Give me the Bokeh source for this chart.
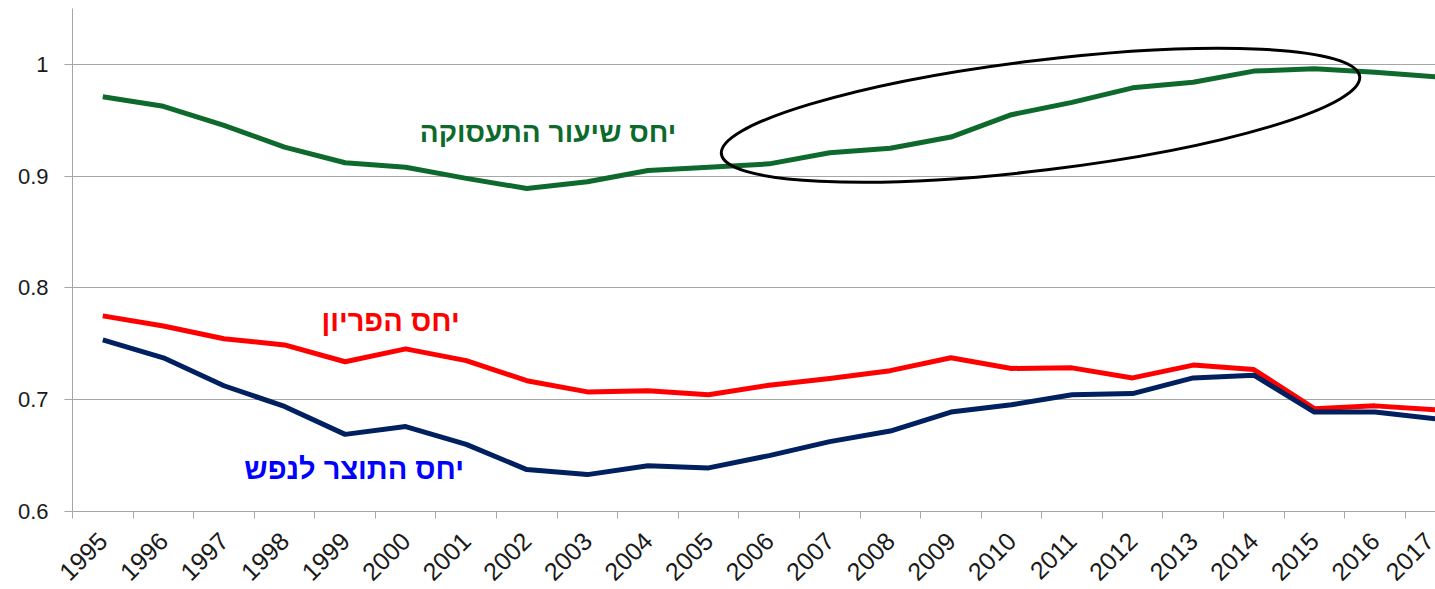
import math
from bokeh.plotting import figure
from bokeh.models import FixedTicker, ColumnDataSource
from bokeh.core.properties import value
from bokeh.embed import file_html
from bokeh.resources import INLINE

years = list(range(1995, 2018))
employment_ratio = [0.971, 0.9625, 0.9455, 0.926, 0.912, 0.908, 0.898, 0.889, 0.895, 0.905,
                    0.908, 0.911, 0.921, 0.925, 0.935, 0.955, 0.966, 0.979, 0.984, 0.994,
                    0.996, 0.993, 0.989]
productivity_ratio = [0.775, 0.766, 0.7545, 0.749, 0.734, 0.7455, 0.735, 0.717, 0.707, 0.708,
                      0.7045, 0.713, 0.719, 0.726, 0.7375, 0.728, 0.7285, 0.7195, 0.731, 0.727,
                      0.692, 0.6945, 0.691]
gdp_ratio = [0.7535, 0.7375, 0.7125, 0.694, 0.669, 0.676, 0.660, 0.6375, 0.633, 0.641,
             0.639, 0.650, 0.6625, 0.672, 0.689, 0.6955, 0.7045, 0.7055, 0.7195, 0.722,
             0.689, 0.689, 0.683]
y_ticks = [0.6, 0.7, 0.8, 0.9, 1.0]

label_employment = "יחס שיעור התעסוקה"
label_productivity = "יחס הפריון"
label_gdp = "יחס התוצר לנפש"

GREEN = "#0E6A2C"
RED = "#FF0000"
NAVY = "#002060"
BLUE = "#0000FF"
FONT = "Liberation Sans"

p = figure(frame_width=1363, frame_height=503, output_backend="svg", toolbar_location=None,
           x_range=(1994.5, 2017.0), y_range=(0.6, 1.05),
           min_border_left=72, min_border_right=0, min_border_top=8, min_border_bottom=76)
p.outline_line_color = None
p.background_fill_color = "white"
p.border_fill_color = "white"

# grid
p.xgrid.grid_line_color = None
p.ygrid.grid_line_color = "#A6A6A6"
p.ygrid.grid_line_width = 1

# y axis
p.yaxis.ticker = FixedTicker(ticks=y_ticks)
p.yaxis.major_label_overrides = {1: "1"}
p.yaxis.axis_line_color = "#A6A6A6"
p.yaxis.major_tick_line_color = "#A6A6A6"
p.yaxis.major_tick_out = 8
p.yaxis.major_tick_in = 0
p.yaxis.minor_tick_line_color = None
p.yaxis.major_label_text_font = FONT
p.yaxis.major_label_text_font_size = "22px"
p.yaxis.major_label_text_color = "#1a1a1a"
p.yaxis.major_label_standoff = 16

# x axis
p.xaxis.ticker = FixedTicker(ticks=years, minor_ticks=[y - 0.5 for y in years])
p.xaxis.major_label_overrides = {y: str(y) for y in years}
p.xaxis.axis_line_color = "#A6A6A6"
p.xaxis.major_tick_line_color = None
p.xaxis.minor_tick_line_color = "#A6A6A6"
p.xaxis.minor_tick_out = 7
p.xaxis.minor_tick_in = 0
p.xaxis.major_label_orientation = math.pi / 4
p.xaxis.major_label_text_font = FONT
p.xaxis.major_label_text_font_size = "25px"
p.xaxis.major_label_text_color = "#1a1a1a"
p.xaxis.major_label_standoff = 18

src = ColumnDataSource(dict(x=years, emp=employment_ratio, prod=productivity_ratio, gdp=gdp_ratio))
p.line("x", "emp", source=src, line_color=GREEN, line_width=5, line_join="round")
p.line("x", "prod", source=src, line_color=RED, line_width=5, line_join="round")
p.line("x", "gdp", source=src, line_color=NAVY, line_width=5, line_join="round")

# ellipse highlight
p.ellipse(x=[2010.48], y=[0.9545], width=643, height=110, angle=0.121,
          width_units="screen", height_units="screen",
          fill_color=None, line_color="black", line_width=3)

# series labels
p.text(x=[2002.35], y=[0.939], text=[label_employment], text_color=GREEN,
       text_font=value(FONT), text_font_style="bold", text_font_size="28px",
       text_align="center", text_baseline="middle")
p.text(x=[1999.75], y=[0.7705], text=[label_productivity], text_color=RED,
       text_font=value(FONT), text_font_style="bold", text_font_size="29px",
       text_align="center", text_baseline="middle")
p.text(x=[1999.15], y=[0.638], text=[label_gdp], text_color=BLUE,
       text_font=value(FONT), text_font_style="bold", text_font_size="29px",
       text_align="center", text_baseline="middle")

open("out.html", "w").write(file_html(p, INLINE))
